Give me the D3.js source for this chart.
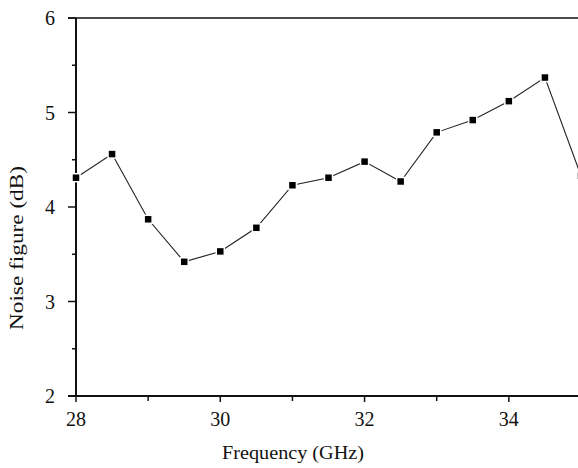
<!DOCTYPE html>
<html>
<head>
<meta charset="utf-8">
<script src="https://cdn.jsdelivr.net/npm/d3@7"></script>
<style>
  body { margin: 0; background: #fff; }
  text { font-family: "Liberation Serif", "DejaVu Serif", serif; fill: #111; }
</style>
</head>
<body>
<div id="chart"></div>
<script>
// frequency (GHz) and noise figure (dB)
var freq = [28, 28.5, 29, 29.5, 30, 30.5, 31, 31.5, 32, 32.5, 33, 33.5, 34, 34.5, 35];
var nf = [4.31, 4.56, 3.87, 3.42, 3.53, 3.78, 4.23, 4.31, 4.48, 4.27, 4.79, 4.92, 5.12, 5.37, 4.33];
var xTicks = [28, 30, 32, 34];
var xMinor = [29, 31, 33];
var yTicks = [2, 3, 4, 5, 6];
var yMinor = [2.5, 3.5, 4.5, 5.5];

var width = 578;
var height = 468;

var svg = d3.select("#chart")
            .append("svg")
            .attr("width", width)
            .attr("height", height);

var x = d3.scaleLinear().domain([28, 35]).range([76, 581]);
var y = d3.scaleLinear().domain([2, 6]).range([396, 18]);

// top frame line
svg.append("line")
    .attr("x1", 68).attr("x2", width)
    .attr("y1", y(6)).attr("y2", y(6))
    .attr("stroke", "#111").attr("stroke-width", 1.6);

// y axis
var yaxis = svg.append("g").attr("transform", "translate(" + x(28) + ",0)");
yaxis.append("line")
    .attr("y1", y(6)).attr("y2", y(2))
    .attr("stroke", "#111").attr("stroke-width", 2);
yaxis.selectAll(".major")
    .data(yTicks).enter()
    .append("line")
    .attr("x1", -8).attr("x2", 0)
    .attr("y1", (d) => y(d)).attr("y2", (d) => y(d))
    .attr("stroke", "#111").attr("stroke-width", 1.5);
yaxis.selectAll(".minor")
    .data(yMinor).enter()
    .append("line")
    .attr("x1", -4).attr("x2", 0)
    .attr("y1", (d) => y(d)).attr("y2", (d) => y(d))
    .attr("stroke", "#111").attr("stroke-width", 1.5);
yaxis.selectAll("text")
    .data(yTicks).enter()
    .append("text")
    .attr("x", -21)
    .attr("y", (d) => y(d))
    .attr("dy", "0.35em")
    .attr("text-anchor", "end")
    .style("font-size", "20px")
    .text((d) => d);

// x axis
var xaxis = svg.append("g").attr("transform", "translate(0," + y(2) + ")");
xaxis.append("line")
    .attr("x1", 68).attr("x2", width)
    .attr("stroke", "#111").attr("stroke-width", 2);
xaxis.selectAll(".major")
    .data(xTicks).enter()
    .append("line")
    .attr("x1", (d) => x(d)).attr("x2", (d) => x(d))
    .attr("y1", 0).attr("y2", 6)
    .attr("stroke", "#111").attr("stroke-width", 1.5);
xaxis.selectAll(".minor")
    .data(xMinor).enter()
    .append("line")
    .attr("x1", (d) => x(d)).attr("x2", (d) => x(d))
    .attr("y1", 0).attr("y2", 5)
    .attr("stroke", "#111").attr("stroke-width", 1.5);
xaxis.selectAll("text")
    .data(xTicks).enter()
    .append("text")
    .attr("x", (d) => x(d))
    .attr("y", 30)
    .attr("text-anchor", "middle")
    .style("font-size", "20px")
    .text((d) => d);

// data line
var line = d3.line()
    .x((d, i) => x(freq[i]))
    .y((d) => y(d));

svg.append("path")
    .datum(nf)
    .attr("d", line)
    .attr("fill", "none")
    .attr("stroke", "#222")
    .attr("stroke-width", 1.1);

svg.append("g")
    .selectAll("rect")
    .data(nf)
    .enter()
    .append("rect")
    .attr("x", (d, i) => x(freq[i]) - 4)
    .attr("y", (d) => y(d) - 4)
    .attr("width", 8)
    .attr("height", 8)
    .attr("fill", "#000")
    .attr("stroke", "#fff")
    .attr("stroke-width", 1.5);

// axis titles
svg.append("text")
    .attr("x", 293)
    .attr("y", 459)
    .attr("text-anchor", "middle")
    .attr("textLength", 142)
    .attr("lengthAdjust", "spacingAndGlyphs")
    .style("font-size", "18px")
    .text("Frequency (GHz)");

svg.append("text")
    .attr("transform", "translate(23,248) rotate(-90)")
    .attr("text-anchor", "middle")
    .attr("textLength", 164)
    .attr("lengthAdjust", "spacingAndGlyphs")
    .style("font-size", "18px")
    .text("Noise figure (dB)");
</script>
</body>
</html>
